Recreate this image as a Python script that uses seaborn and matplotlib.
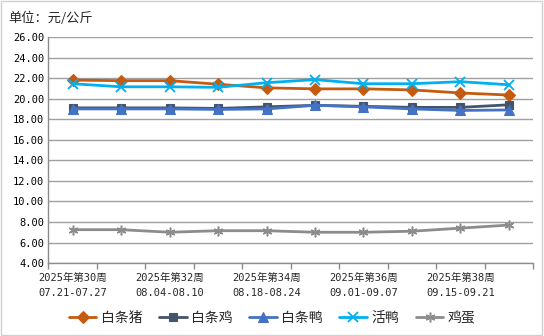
import matplotlib
matplotlib.use("Agg")
import matplotlib.pyplot as plt
from matplotlib.patches import Rectangle
import seaborn as sns
import pandas as pd

weeks = ["2025年第30周\n07.21-07.27", "2025年第31周\n07.28-08.03",
         "2025年第32周\n08.04-08.10", "2025年第33周\n08.11-08.17",
         "2025年第34周\n08.18-08.24", "2025年第35周\n08.25-08.31",
         "2025年第36周\n09.01-09.07", "2025年第37周\n09.08-09.14",
         "2025年第38周\n09.15-09.21", "2025年第39周\n09.22-09.28"]
pork = [21.8, 21.75, 21.75, 21.4, 21.05, 20.95, 20.95, 20.85, 20.55, 20.35]
chicken = [19.1, 19.1, 19.1, 19.05, 19.2, 19.35, 19.25, 19.15, 19.15, 19.4]
duck = [19.0, 19.0, 19.0, 18.95, 19.0, 19.35, 19.2, 19.0, 18.85, 18.9]
live_duck = [21.45, 21.15, 21.15, 21.1, 21.55, 21.85, 21.45, 21.45, 21.65, 21.35]
egg = [7.25, 7.25, 7.0, 7.15, 7.15, 7.0, 7.0, 7.1, 7.4, 7.7]

series_names = ["白条猪", "白条鸡", "白条鸭", "活鸭", "鸡蛋"]
series_vals = [pork, chicken, duck, live_duck, egg]
colors = ["#C55A11", "#44546A", "#4472C4", "#00B0F0", "#8C8C8C"]
markers = ["D", "s", "^", "x", (6, 2, 0)]
msizes = [6, 5.5, 7, 7, 7]
medges = [0.8, 0.8, 0.8, 1.3, 1.1]

sns.set_theme(style="white")
plt.rcParams['font.family'] = ['Noto Sans CJK SC', 'DejaVu Sans']
mono = ['DejaVu Sans Mono', 'Noto Sans CJK SC']

fig = plt.figure(figsize=(5.44, 3.36), dpi=100)
ax = fig.add_axes([0.089, 0.217, 0.891, 0.673])

idx = list(range(len(weeks)))
for name, vals, c, m, ms, mew in zip(series_names, series_vals, colors, markers, msizes, medges):
    df = pd.DataFrame({"x": idx, "y": vals})
    sns.lineplot(data=df, x="x", y="y", ax=ax, color=c, marker=m, markersize=ms,
                 linewidth=2.0, markeredgecolor=c, markeredgewidth=mew, label=name)

ax.set_xlim(-0.5, len(weeks) - 0.5)
ax.set_ylim(4, 26)
ax.set_yticks([4 + 2 * i for i in range(12)])
ax.set_yticklabels([f"{4 + 2 * i:.2f}" for i in range(12)], family=mono, fontsize=7.5, color="#000000")
ax.grid(axis="y", color="#A0A0A0", linewidth=1.0)
ax.set_axisbelow(True)

ax.set_xticks([i - 0.5 for i in range(len(weeks) + 1)])
ax.set_xticklabels([])
ax.tick_params(axis="x", which="major", length=4, width=1, color="#8C8C8C", direction="out", bottom=True)
ax.set_xticks(idx[::2], minor=True)
ax.set_xticklabels(weeks[::2], minor=True, family=mono, fontsize=7.5, linespacing=1.6)
ax.tick_params(axis="x", which="minor", length=0, pad=7)
ax.tick_params(axis="y", length=0, pad=3)
ax.set_xlabel("")
ax.set_ylabel("")

for s in ["top", "right"]:
    ax.spines[s].set_visible(False)
for s in ["left", "bottom"]:
    ax.spines[s].set_color("#8C8C8C")
    ax.spines[s].set_linewidth(1.0)

ax.legend(loc="center", bbox_to_anchor=(0.5, 0.053), bbox_transform=fig.transFigure,
          ncol=5, frameon=False, fontsize=10, handlelength=2.0, handletextpad=0.3,
          columnspacing=1.2)

fig.text(0.016, 0.945, "单位：元/公斤", fontsize=9.5, ha="left", va="center")
fig.patches.append(Rectangle((0.002, 0.003), 0.995, 0.993, transform=fig.transFigure,
                             fill=False, edgecolor="#D0D0D0", linewidth=1.0))

fig.savefig("out.png", dpi=100)
